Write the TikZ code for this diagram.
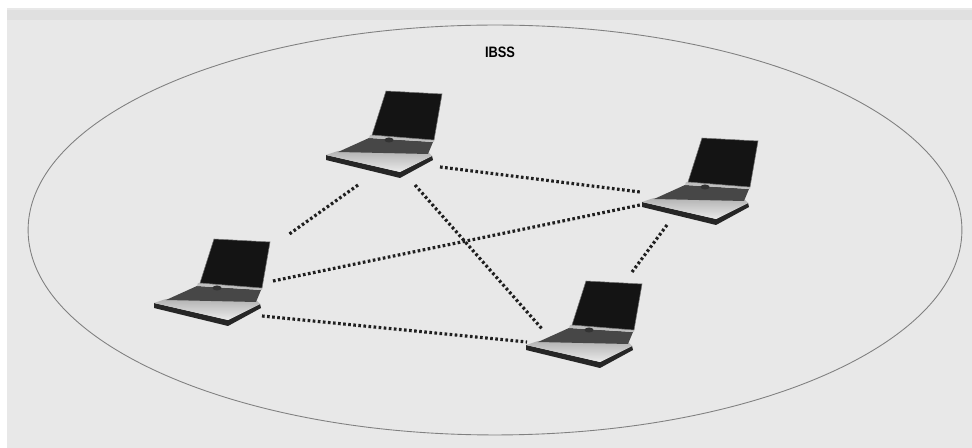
\documentclass[tikz,border=0pt]{standalone}
\usepackage{fontspec}
\setmainfont{Liberation Sans}
\begin{document}
\begin{tikzpicture}[x=0.02cm, y=-0.02cm,
  link/.style={line width=1.8pt, dash pattern=on 1.5pt off 1.4pt, color=black!88},
  cell/.style={draw=black!50, line width=0.5pt},
  laptop/.pic={
    % underside and edges of the base
    \fill[black!85] (-46,20) -- (28,37) -- (60,21) -- (61,25) -- (28,43) -- (-46,25) -- cycle;
    % palm rest
    \shade[top color=black!30, bottom color=black!8]
      (-46,20) -- (-34,16) -- (57,18) -- (60,21) -- (28,37) -- cycle;
    % keyboard
    \fill[black!72] (-3,3) -- (61,7) -- (56,19) -- (-34,17) -- cycle;
    % hinge strip and button
    \fill[black!25] (-2,0) -- (62,4) -- (62,7) -- (-3,3) -- cycle;
    \fill[black!80] (17,5) ellipse [x radius=0.09cm, y radius=0.05cm];
    % screen
    \fill[black!92] (0,0) -- (14,-44) -- (70,-41) -- (62,5) -- cycle;
    \draw[black!55, line width=0.3pt] (0,0) -- (14,-44) -- (70,-41) -- (62,5) -- cycle;
  }]
  % canvas
  \useasboundingbox (0,0) rectangle (972,448);
  \fill[white] (0,0) rectangle (972,448);
  \fill[black!9] (7,8) rectangle (972,448);
  \fill[black!12] (7,10) rectangle (972,20);

  % cell boundary
  \draw[cell] (495,230) ellipse [x radius=9.34cm, y radius=4.1cm];
  \node[font=\bfseries\fontsize{8.6}{10}\selectfont, xscale=0.85] (ibss) at (500,52) {IBSS};

  % stations
  \coordinate (l1) at (372,135);
  \coordinate (l2) at (200,283);
  \coordinate (l3) at (688,182);
  \coordinate (l4) at (572,325);
  \foreach \s in {l1,l2,l3,l4} { \pic at (\s) {laptop}; }

  % peer-to-peer links
  \draw[link] ([shift={(-14,50)}]l1) -- ([shift={(88,-48)}]l2);
  \draw[link] ([shift={(68,32)}]l1) -- ([shift={(-48,10)}]l3);
  \draw[link] ([shift={(43,50)}]l1) -- ([shift={(-29,5)}]l4);
  \draw[link] ([shift={(73,-2)}]l2) -- ([shift={(-48,23)}]l3);
  \draw[link] ([shift={(62,33)}]l2) -- ([shift={(-45,17)}]l4);
  \draw[link] ([shift={(-21,43)}]l3) -- ([shift={(60,-53)}]l4);
\end{tikzpicture}
\end{document}
